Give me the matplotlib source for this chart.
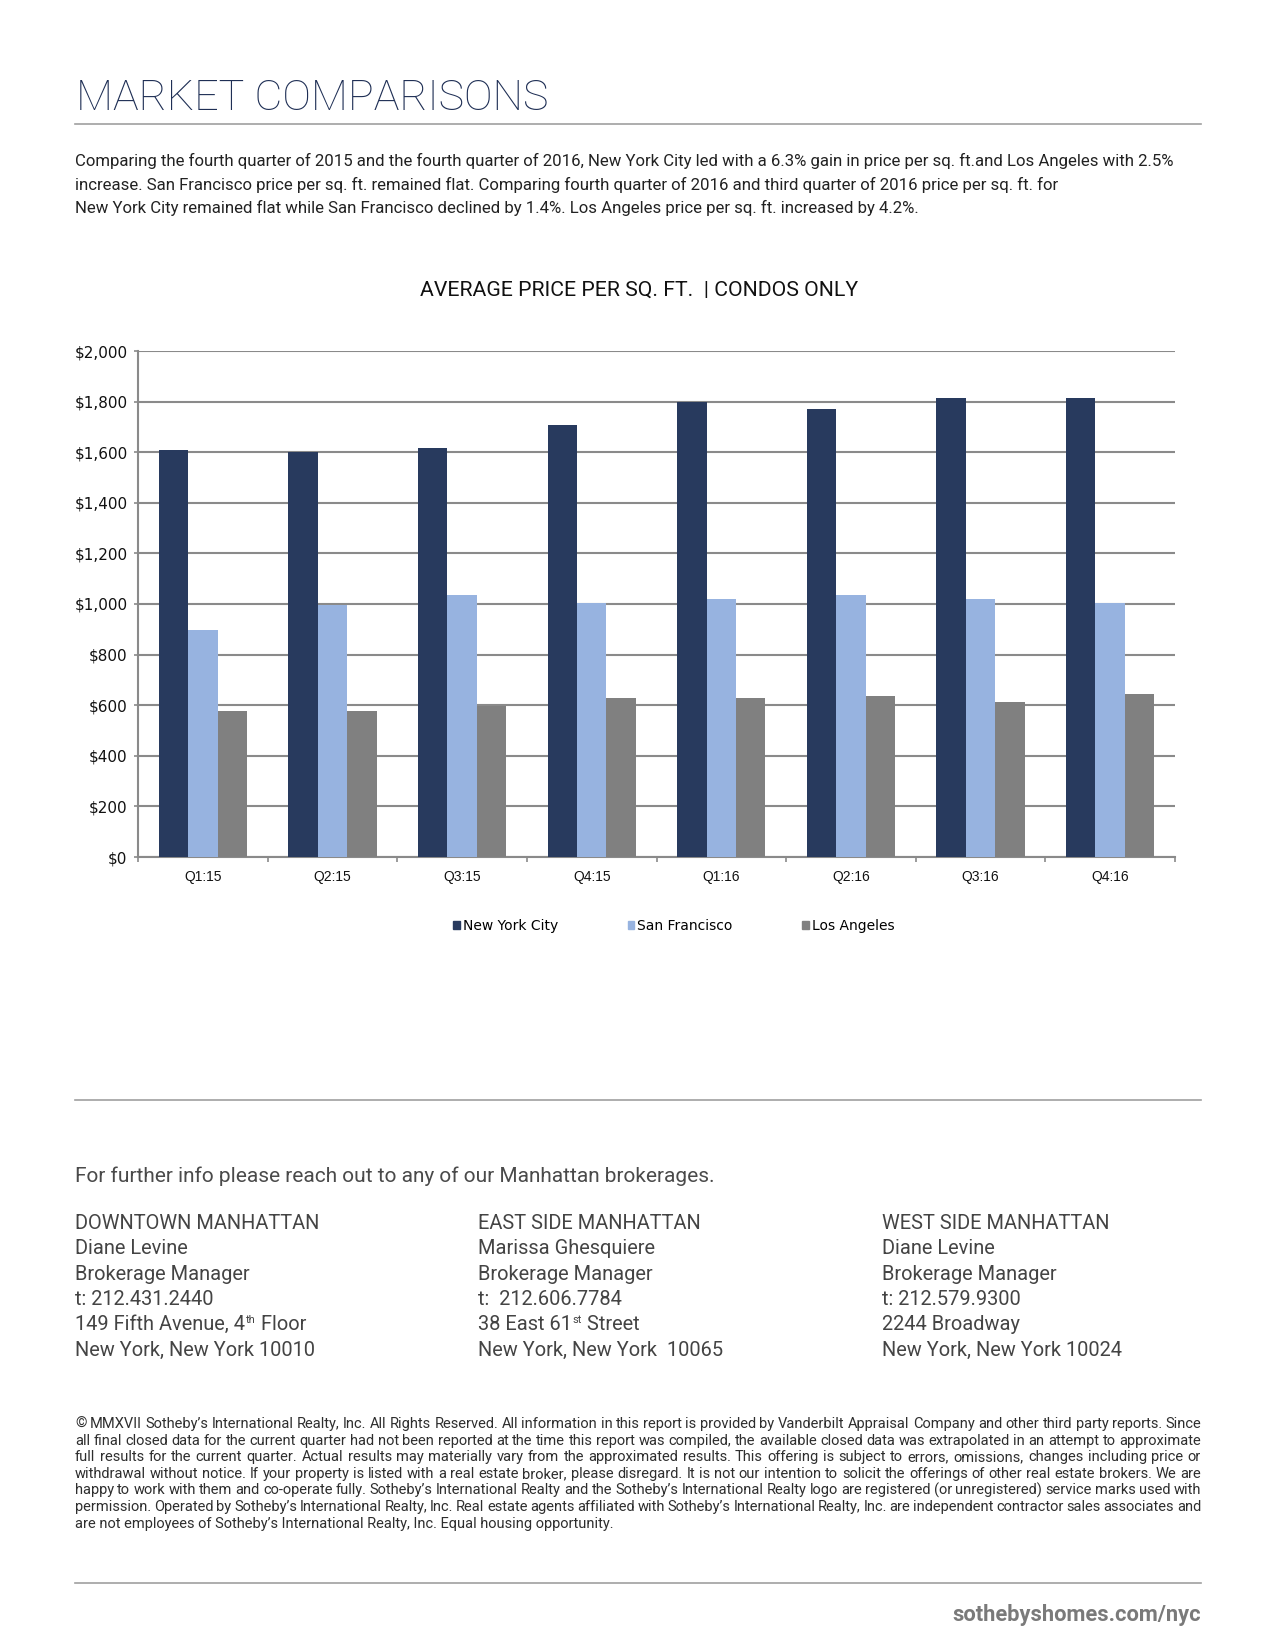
import numpy as np
import matplotlib
matplotlib.use("Agg")
import matplotlib.pyplot as plt
from matplotlib.patches import Patch
from matplotlib.ticker import FuncFormatter

# Chart data
quarters = ["Q1:15", "Q2:15", "Q3:15", "Q4:15", "Q1:16", "Q2:16", "Q3:16", "Q4:16"]
nyc = [1608, 1601, 1615, 1706, 1797, 1772, 1814, 1814]
sf = [896, 995, 1036, 1003, 1020, 1036, 1020, 1003]
la = [576, 576, 596, 628, 628, 636, 611, 644]
series_names = ["New York City", "San Francisco", "Los Angeles"]
series_colors = ["#283a5e", "#97b3e0", "#808080"]

title = "MARKET COMPARISONS"
intro = [
    "Comparing the fourth quarter of 2015 and the fourth quarter of 2016, New York City led with a 6.3% gain in price per sq. ft.and Los Angeles with 2.5%",
    "increase. San Francisco price per sq. ft. remained flat. Comparing fourth quarter of 2016 and third quarter of 2016 price per sq. ft. for",
    "New York City remained flat while San Francisco declined by 1.4%. Los Angeles price per sq. ft. increased by 4.2%.",
]
chart_title = "AVERAGE PRICE PER SQ. FT.  | CONDOS ONLY"
contact_intro = "For further info please reach out to any of our Manhattan brokerages."
contacts = [
    ["DOWNTOWN MANHATTAN", "Diane Levine", "Brokerage Manager", "t: 212.431.2440",
     ("149 Fifth Avenue, 4", "th", " Floor"), "New York, New York 10010"],
    ["EAST SIDE MANHATTAN", "Marissa Ghesquiere", "Brokerage Manager", "t:  212.606.7784",
     ("38 East 61", "st", " Street"), "New York, New York  10065"],
    ["WEST SIDE MANHATTAN", "Diane Levine", "Brokerage Manager", "t: 212.579.9300",
     "2244 Broadway", "New York, New York 10024"],
]
disclaimer = [
    "\u00a9 MMXVII Sotheby\u2019s International Realty, Inc. All Rights Reserved. All information in this report is provided by Vanderbilt Appraisal Company and other third party reports. Since",
    "all final closed data for the current quarter had not been reported at the time this report was compiled, the available closed data was extrapolated in an attempt to approximate",
    "full results for the current quarter.  Actual results may materially vary from the approximated results. This offering is subject to errors, omissions, changes including price or",
    "withdrawal without notice. If your property is listed with a real estate broker, please disregard. It is not our intention to solicit the offerings of other real estate brokers. We are",
    "happy to work with them and co-operate fully. Sotheby\u2019s International Realty and the Sotheby\u2019s International Realty logo are registered (or unregistered) service marks used with",
    "permission. Operated by Sotheby\u2019s International Realty, Inc. Real estate agents affiliated with Sotheby\u2019s International Realty, Inc. are independent contractor sales associates and",
    "are not employees of Sotheby\u2019s International Realty, Inc. Equal housing opportunity.",
]
site = "sothebyshomes.com/nyc"

W, H = 1275, 1650
fig = plt.figure(figsize=(W / 100, H / 100), dpi=100)
renderer = fig.canvas.get_renderer()


def px(x, y):
    return x / W, 1 - y / H


def put(x, y, s, **kw):
    return fig.text(*px(x, y), s, va="baseline", **kw)


def text_width(t):
    return t.get_window_extent(renderer).width


def fit(t, target):
    t.set_fontsize(t.get_fontsize() * target / text_width(t))
    return t


# Header
fit(put(76, 110, title, family="Roboto", weight="light", color="#1f2f55", fontsize=34), 473)
fig.add_artist(plt.Line2D([75 / W, 1201 / W], [1 - 124 / H] * 2, color="#a0a0a0", lw=1.2))

para_kw = dict(family="Roboto", color="#222222", fontsize=12)
t0 = fit(put(75, 166, intro[0], **para_kw), 1099)
for i, line in enumerate(intro[1:], start=1):
    put(75, 166 + i * 23.7, line, **{**para_kw, "fontsize": t0.get_fontsize()})

fit(put(639, 296, chart_title, family="Roboto", color="#111111", fontsize=15, ha="center"), 441)

# Bar chart
ax = fig.add_axes([138 / W, 1 - 857 / H, (1175 - 138) / W, (857 - 351) / H])
x = np.arange(len(quarters))
w = 0.227
for k, (vals, name, col) in enumerate(zip([nyc, sf, la], series_names, series_colors)):
    ax.bar(x + (k - 1) * w, vals, width=w, color=col, label=name, zorder=3)

ax.set_xlim(-0.5, len(quarters) - 0.5)
ax.set_ylim(0, 2000)
ax.set_yticks(np.arange(0, 2001, 200))
ax.yaxis.set_major_formatter(FuncFormatter(lambda v, p: f"${v:,.0f}"))
ax.grid(axis="y", color="#8a8a8a", lw=1.5, zorder=0)
ax.set_axisbelow(True)
for s in ["top", "right"]:
    ax.spines[s].set_visible(False)
for s in ["left", "bottom"]:
    ax.spines[s].set_color("#8a8a8a")
    ax.spines[s].set_linewidth(1.5)

ax.set_xticks(x)
ax.set_xticklabels(quarters, family="Liberation Sans", fontsize=10, color="#111111")
ax.set_xticks(np.arange(-0.5, len(quarters)), minor=True)
ax.tick_params(axis="x", which="major", length=0, pad=9)
ax.tick_params(axis="x", which="minor", length=3.5, width=1.2, color="#8a8a8a", direction="out")
ax.tick_params(axis="y", length=3, width=1.2, color="#8a8a8a", pad=4.5, labelsize=11)
for lab in ax.get_yticklabels():
    lab.set_family("DejaVu Sans")
    lab.set_color("#111111")

handles = [Patch(color=c, label=n) for n, c in zip(series_names, series_colors)]
fig.legend(handles=handles, loc="center", bbox_to_anchor=px(674, 926), ncol=3, frameon=False,
           handlelength=0.45, handleheight=0.45, handletextpad=0.25, columnspacing=5.0,
           prop={"family": "DejaVu Sans", "size": 10})

# Contact block
fig.add_artist(plt.Line2D([75 / W, 1201 / W], [1 - 1100 / H] * 2, color="#a0a0a0", lw=1.2))
fit(put(75, 1182, contact_intro, family="Roboto", color="#4a4a4a", fontsize=15), 639)

probe = put(75, 1229, contacts[2][5], family="Roboto", color="#444444", fontsize=15)
fit(probe, 240)
csize = probe.get_fontsize()
probe.remove()

col_x = [75, 478, 882]
for cx, block in zip(col_x, contacts):
    for j, line in enumerate(block):
        y = 1229 + j * 25.3
        kw = dict(family="Roboto", color="#444444", fontsize=csize)
        if isinstance(line, tuple):
            a, sup, b = line
            ta = put(cx, y, a, **kw)
            xa = cx + text_width(ta)
            ts = put(xa + 1, y - 7, sup, **{**kw, "fontsize": csize * 0.55})
            put(xa + 1 + text_width(ts), y, b, **kw)
        else:
            put(cx, y, line, **kw)

# Disclaimer, justified
dkw = dict(family="Roboto", color="#2e2e2e", fontsize=10)
probe = put(75, 1428, disclaimer[3], **dkw)
fit(probe, 1118)
dsize = probe.get_fontsize()
probe.remove()
dkw["fontsize"] = dsize
left, right = 75, 1201
for i, line in enumerate(disclaimer):
    y = 1428 + i * 16.6
    if i == len(disclaimer) - 1:
        put(left, y, line, **dkw)
        continue
    words = line.split()
    arts = [put(left, y, wd, **dkw) for wd in words]
    widths = [text_width(a) for a in arts]
    gap = (right - left - sum(widths)) / (len(words) - 1)
    xpos = left
    for a, wd in zip(arts, widths):
        a.set_position(px(xpos, y))
        xpos += wd + gap

fig.add_artist(plt.Line2D([75 / W, 1201 / W], [1 - 1583 / H] * 2, color="#a0a0a0", lw=1.2))
fit(put(1201, 1621, site, family="Roboto", weight="bold", color="#7a7a7a", fontsize=15, ha="right"), 250)

fig.savefig("out.png", dpi=100)
